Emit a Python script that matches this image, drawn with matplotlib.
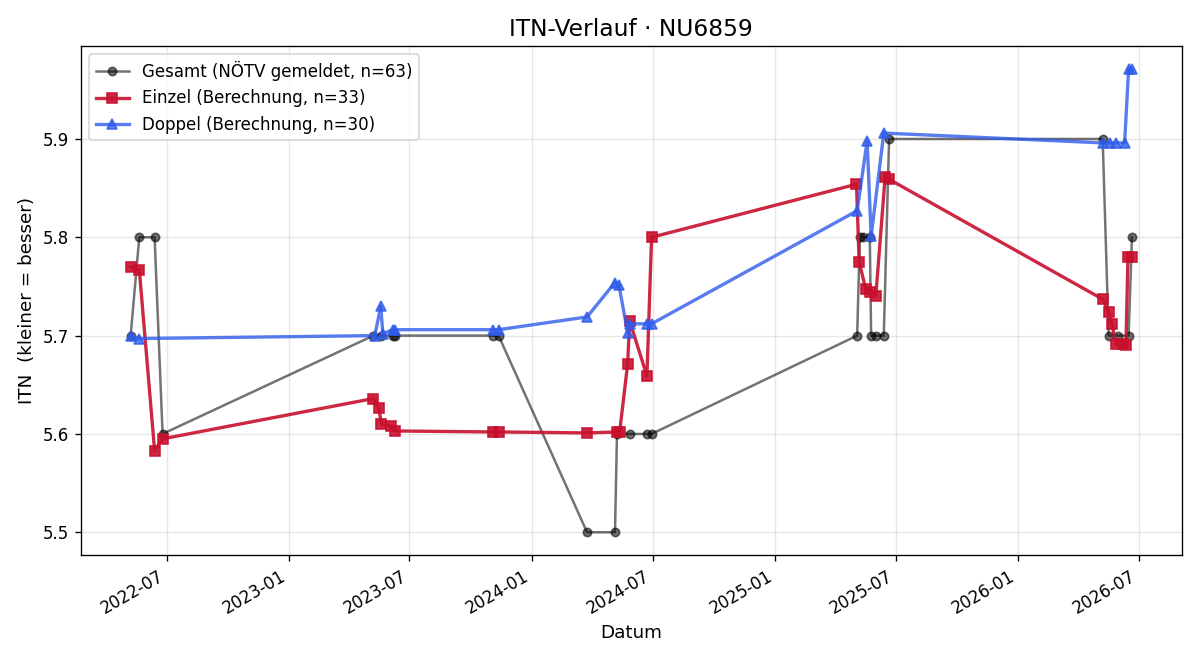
import numpy as np
import pandas as pd
import matplotlib
matplotlib.use("Agg")
import matplotlib.pyplot as plt
import matplotlib.dates as mdates

# Gesamt (NÖTV gemeldet)
ges_dates = ["2022-05-08", "2022-05-21", "2022-06-13", "2022-06-25",
             "2023-05-08", "2023-05-20", "2023-06-06", "2023-06-10",
             "2023-11-03", "2023-11-12", "2024-03-24", "2024-05-05",
             "2024-05-08", "2024-05-27", "2024-06-22", "2024-06-29",
             "2025-05-04", "2025-05-08", "2025-05-13", "2025-05-23",
             "2025-05-25", "2025-06-01", "2025-06-13", "2025-06-21",
             "2026-05-08", "2026-05-17", "2026-05-31", "2026-06-16",
             "2026-06-21"]
ges_itn = [5.70, 5.80, 5.80, 5.60,
           5.70, 5.70, 5.70, 5.70,
           5.70, 5.70, 5.50, 5.50,
           5.60, 5.60, 5.60, 5.60,
           5.70, 5.80, 5.80, 5.80,
           5.70, 5.70, 5.70, 5.90,
           5.90, 5.70, 5.70, 5.70,
           5.80]

# Einzel (Berechnung)
ein_dates = ["2022-05-08", "2022-05-21", "2022-06-13", "2022-06-25",
             "2023-05-08", "2023-05-16", "2023-05-20", "2023-06-03",
             "2023-06-10", "2023-11-03", "2023-11-12", "2024-03-24",
             "2024-05-08", "2024-05-12", "2024-05-24", "2024-05-27",
             "2024-06-22", "2024-06-29", "2025-05-03", "2025-05-07",
             "2025-05-17", "2025-05-23", "2025-06-01", "2025-06-15",
             "2025-06-21", "2026-05-08", "2026-05-17", "2026-05-22",
             "2026-05-28", "2026-06-07", "2026-06-12", "2026-06-15",
             "2026-06-21"]
ein_itn = [5.770, 5.767, 5.583, 5.595,
           5.636, 5.626, 5.610, 5.608,
           5.603, 5.602, 5.602, 5.601,
           5.602, 5.602, 5.671, 5.715,
           5.659, 5.800, 5.854, 5.775,
           5.747, 5.744, 5.740, 5.861,
           5.859, 5.737, 5.724, 5.712,
           5.691, 5.691, 5.690, 5.780,
           5.780]

# Doppel (Berechnung)
dop_dates = ["2022-05-08", "2022-05-21", "2023-05-10", "2023-05-19",
             "2023-05-22", "2023-06-06", "2023-06-10", "2023-11-03",
             "2023-11-12", "2024-03-24", "2024-05-05", "2024-05-11",
             "2024-05-24", "2024-05-27", "2024-06-22", "2024-06-29",
             "2025-05-04", "2025-05-19", "2025-05-25", "2025-06-13",
             "2026-05-08", "2026-05-19", "2026-05-28", "2026-06-10",
             "2026-06-16", "2026-06-21"]
dop_itn = [5.700, 5.697, 5.700, 5.730,
           5.702, 5.706, 5.706, 5.706,
           5.706, 5.719, 5.754, 5.751,
           5.703, 5.712, 5.712, 5.712,
           5.827, 5.898, 5.801, 5.906,
           5.896, 5.896, 5.896, 5.896,
           5.971, 5.971]

fig, ax = plt.subplots(figsize=(10, 5.5), dpi=120)

ax.plot(pd.to_datetime(ges_dates), ges_itn, marker="o", color="black", alpha=0.55,
        lw=1.5, ms=5, label="Gesamt (NÖTV gemeldet, n=63)")
ax.plot(pd.to_datetime(ein_dates), ein_itn, marker="s", color="#c8102e", alpha=0.9,
        lw=2, ms=6, label="Einzel (Berechnung, n=33)")
ax.plot(pd.to_datetime(dop_dates), dop_itn, marker="^", color="#2f5bea", alpha=0.8,
        lw=2, ms=6, label="Doppel (Berechnung, n=30)")

ax.set_title("ITN-Verlauf · NU6859", fontsize=14)
ax.set_xlabel("Datum", fontsize=11)
ax.set_ylabel("ITN  (kleiner = besser)", fontsize=11)
ax.grid(True, alpha=0.3)
ax.xaxis.set_major_locator(mdates.MonthLocator(bymonth=[1, 7]))
ax.xaxis.set_major_formatter(mdates.DateFormatter("%Y-%m"))
ax.legend(loc="upper left")
fig.autofmt_xdate()
fig.tight_layout()
fig.savefig("out.png")
